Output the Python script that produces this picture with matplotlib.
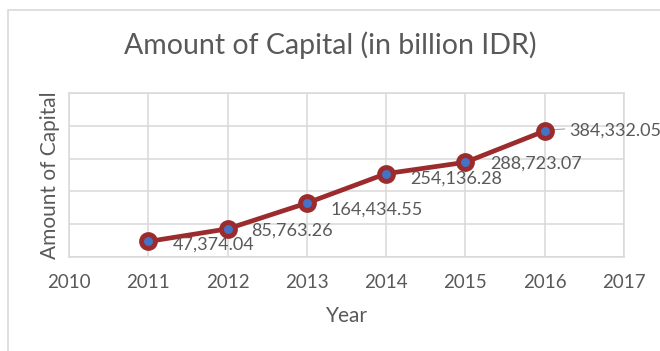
import matplotlib
matplotlib.use("Agg")
import matplotlib.pyplot as plt
from matplotlib.patches import Rectangle

years = [2011, 2012, 2013, 2014, 2015, 2016]
capital = [47374.04, 85763.26, 164434.55, 254136.28, 288723.07, 384332.05]
labels = ["47,374.04", "85,763.26", "164,434.55", "254,136.28", "288,723.07", "384,332.05"]
xticks = [2010, 2011, 2012, 2013, 2014, 2015, 2016, 2017]

plt.rcParams['font.family'] = ['Lato', 'DejaVu Sans']
gray = '#595959'
grid = '#D9D9D9'

fig = plt.figure(figsize=(6.6, 3.51), dpi=100)
fig.patches.append(Rectangle((8/660, -0.1), 1.2, 1.1 - 10/351, transform=fig.transFigure,
                             fill=False, edgecolor=grid, linewidth=1.2))
ax = fig.add_axes([69/660, (351-257)/351, (624-69)/660, (257-93)/351])

ax.plot(years, capital, color='#9B2B2D', linewidth=3.4, zorder=3, solid_capstyle='round')
ax.plot(years, capital, linestyle='none', marker='o', markersize=10,
        markerfacecolor='#4472C4', markeredgecolor='#9B2B2D', markeredgewidth=3.5, zorder=4)

offsets = [(24, -3), (24, -2), (24, -7), (24, -5), (25, -1), (24, 0)]
for x, y, t, (dx, dy) in zip(years, capital, labels, offsets):
    ax.annotate(t, (x, y), xytext=(dx, dy), textcoords='offset pixels',
                ha='left', va='center', fontsize=13, color=gray)
ax.plot([2016.06, 2016.25], [capital[-1] + 3000, capital[-1] + 6000], color='#A6A6A6', linewidth=0.8, zorder=2)

ax.set_xlim(2010, 2017)
ax.set_ylim(0, 500000)
ax.set_xticks(xticks)
ax.set_xticklabels([str(v) for v in xticks])
ax.set_yticks([0, 100000, 200000, 300000, 400000, 500000])
ax.set_yticklabels([])
ax.tick_params(axis='both', length=0, colors=gray, labelsize=13.5, pad=12)
ax.grid(True, color=grid, linewidth=1.1)
ax.set_axisbelow(True)
for s in ax.spines.values():
    s.set_color(grid)
    s.set_linewidth(1.1)

ax.set_xlabel('Year', fontsize=15, color=gray, labelpad=11)
ax.set_ylabel('Amount of Capital', fontsize=15, color=gray)
ax.yaxis.set_label_coords(-0.016, 0.5)
fig.text(0.5, (351-45)/351, 'Amount of Capital (in billion IDR)', ha='center', va='center',
         fontsize=20.5, color=gray)

fig.savefig('out.png', dpi=100)
